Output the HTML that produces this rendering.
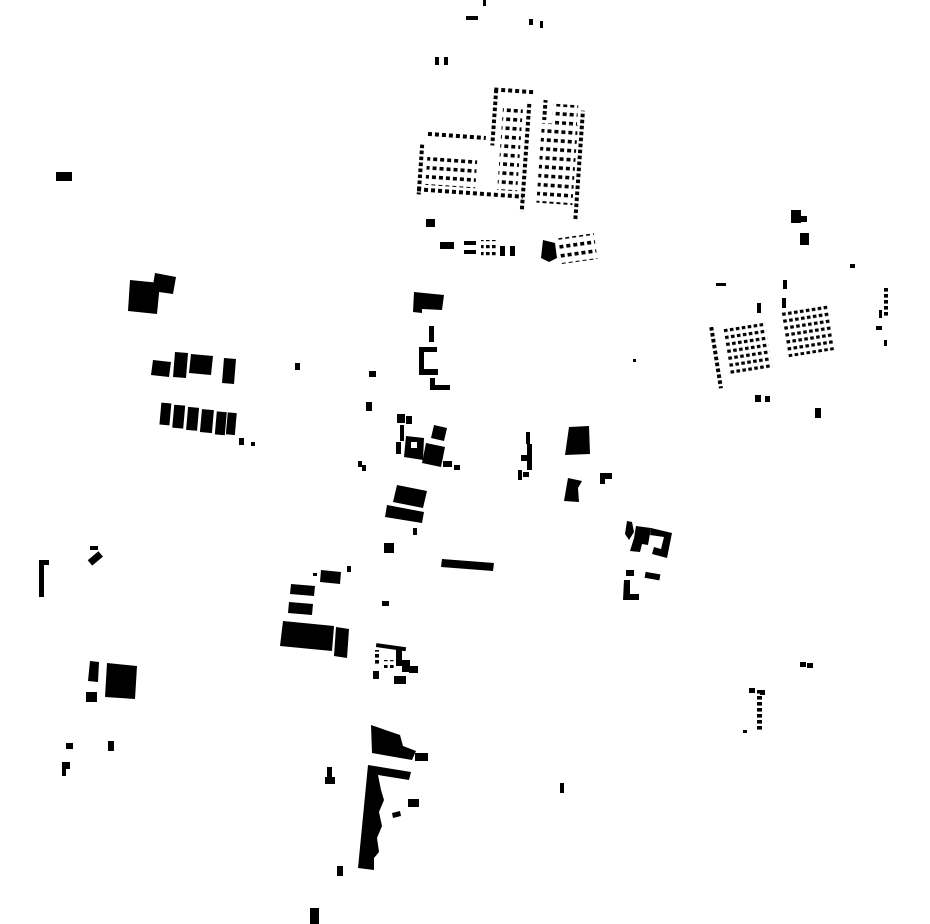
<!DOCTYPE html>
<html><head><meta charset="utf-8"><style>html,body{margin:0;padding:0;background:#fff;width:930px;height:924px;overflow:hidden}</style></head>
<body>
<svg width="930" height="924" viewBox="0 0 930 924" xmlns="http://www.w3.org/2000/svg">
<defs>
<pattern id="d" width="7" height="9" patternUnits="userSpaceOnUse"><rect x="0" y="0" width="4" height="3.6" fill="#000"/></pattern>
<pattern id="d2" width="6" height="7" patternUnits="userSpaceOnUse"><rect x="0" y="0" width="3.6" height="3.2" fill="#000"/></pattern>
<pattern id="v" width="4" height="6" patternUnits="userSpaceOnUse"><rect x="0" y="0" width="4" height="3.6" fill="#000"/></pattern>
<pattern id="h" width="7" height="4" patternUnits="userSpaceOnUse"><rect x="0" y="0" width="4" height="4" fill="#000"/></pattern>
</defs>
<g fill="#000">
<!-- top cluster -->
<rect x="483" y="0" width="3" height="6"/>
<rect x="466" y="16" width="12" height="4"/>
<rect x="529" y="19" width="4" height="6"/><rect x="540" y="21" width="3" height="7"/>
<rect x="435" y="57" width="4" height="8"/><rect x="444" y="57" width="4" height="8"/>
<g transform="rotate(4 500 150)">
<rect x="428" y="160" width="50" height="30" fill="url(#d)"/>
<rect x="420" y="150" width="4" height="50" fill="url(#v)"/>
<rect x="425" y="137" width="60" height="4" fill="url(#h)"/>
<rect x="490" y="88" width="4" height="58" fill="url(#v)"/>
<rect x="490" y="88" width="40" height="4" fill="url(#h)"/>
<rect x="500" y="105" width="20" height="85" fill="url(#d)"/>
<rect x="524" y="100" width="4" height="110" fill="url(#v)"/>
<rect x="540" y="120" width="36" height="80" fill="url(#d)"/>
<rect x="540" y="97" width="4" height="20" fill="url(#v)"/>
<rect x="550" y="100" width="25" height="20" fill="url(#d)"/>
<rect x="578" y="105" width="4" height="110" fill="url(#v)"/>
<rect x="418" y="193" width="108" height="4" fill="url(#h)"/>
</g>
<rect x="426" y="219" width="9" height="8"/>
<rect x="440" y="242" width="14" height="7"/>
<rect x="464" y="241" width="12" height="4"/><rect x="464" y="250" width="12" height="4"/>
<rect x="481" y="240" width="16" height="16" fill="url(#d2)"/>
<rect x="500" y="246" width="5" height="10"/><rect x="510" y="246" width="5" height="10"/>
<polygon points="543,240 555,243 557,258 549,262 541,258"/>
<g transform="rotate(-8 575 250)"><rect x="560" y="236" width="36" height="26" fill="url(#d)"/></g>

<!-- right cluster -->
<rect x="791" y="210" width="10" height="13"/><rect x="799" y="216" width="8" height="6"/>
<rect x="800" y="233" width="9" height="12"/>
<rect x="850" y="264" width="5" height="4"/>
<rect x="716" y="283" width="10" height="3"/>
<rect x="783" y="280" width="4" height="9"/>
<rect x="782" y="298" width="4" height="10"/><rect x="757" y="303" width="4" height="10"/>
<g transform="rotate(-9 770 340)">
<rect x="712" y="318" width="4" height="62" fill="url(#v)"/>
<rect x="724" y="322" width="44" height="48" fill="url(#d2)"/>
<rect x="785" y="312" width="48" height="48" fill="url(#d2)"/>
</g>
<rect x="884" y="287" width="4" height="30" fill="url(#v)"/>
<rect x="876" y="326" width="6" height="4"/><rect x="879" y="310" width="3" height="8"/><rect x="884" y="340" width="3" height="6"/>
<rect x="755" y="395" width="6" height="7"/><rect x="765" y="396" width="5" height="6"/>
<rect x="815" y="408" width="6" height="10"/>
<rect x="633" y="359" width="3" height="3"/>

<!-- left -->
<rect x="56" y="172" width="16" height="9"/>
<polygon points="130,280 160,283 157,314 128,311"/>
<polygon points="155,273 176,277 173,294 152,291"/>
<polygon points="153,360 171,362 169,377 151,375"/>
<polygon points="175,352 188,353 186,378 173,377"/>
<polygon points="191,354 213,356 211,375 189,373"/>
<polygon points="224,358 236,359 234,384 222,383"/>
<g transform="rotate(5 200 420)">
<rect x="160" y="406" width="10" height="22"/><rect x="173" y="407" width="11" height="23"/>
<rect x="187" y="408" width="11" height="23"/><rect x="201" y="409" width="12" height="23"/>
<rect x="216" y="410" width="10" height="23"/><rect x="227" y="410" width="9" height="22"/>
</g>
<rect x="239" y="438" width="5" height="7"/><rect x="251" y="442" width="4" height="4"/>
<rect x="295" y="363" width="5" height="7"/>
<rect x="369" y="371" width="7" height="6"/>
<rect x="366" y="402" width="6" height="9"/>

<!-- center column -->
<polygon points="414,292 444,295 442,310 422,309 422,313 413,312"/>
<rect x="429" y="326" width="5" height="16"/>
<path d="M419 347 h18 v5 h-13 v17 h14 v6 h-19z"/>
<path d="M430 378 h5 v7 h15 v5 h-20z"/>
<rect x="397" y="414" width="8" height="9"/><rect x="406" y="416" width="6" height="8"/>
<rect x="400" y="425" width="4" height="16"/><rect x="396" y="442" width="5" height="12"/>
<polygon points="434,425 447,428 444,441 431,438"/>
<polygon points="406,436 424,438 423,460 404,457" />
<rect x="411" y="442" width="6" height="6" fill="#fff"/>
<polygon points="426,443 445,447 441,467 422,463"/>
<rect x="443" y="461" width="9" height="6"/><rect x="454" y="465" width="6" height="5"/>
<rect x="358" y="461" width="4" height="6"/><rect x="362" y="465" width="4" height="6"/>
<polygon points="397,485 427,491 423,508 393,502"/>
<polygon points="387,505 424,512 422,523 385,517"/>
<rect x="413" y="528" width="4" height="7"/>
<rect x="384" y="543" width="10" height="10"/>
<polygon points="442,559 494,563 493,571 441,567"/>
<rect x="347" y="566" width="4" height="6"/>
<polygon points="321,570 341,572 340,584 320,582"/>
<rect x="313" y="573" width="4" height="3"/>
<polygon points="291,584 315,586 314,596 290,594"/>
<polygon points="289,602 313,604 312,615 288,613"/>
<polygon points="283,621 334,626 332,651 280,646"/>
<polygon points="336,627 349,629 347,658 334,656"/>
<rect x="382" y="601" width="7" height="5"/>
<g>
<rect x="376" y="645" width="30" height="4" transform="rotate(8 390 647)"/>
<rect x="375" y="650" width="4" height="16" fill="url(#v)"/>
<rect x="373" y="671" width="6" height="8"/>
<rect x="384" y="660" width="12" height="8" fill="url(#d2)"/>
<rect x="396" y="648" width="6" height="18"/>
<rect x="402" y="660" width="8" height="12"/>
<rect x="409" y="666" width="9" height="7"/>
<rect x="394" y="676" width="12" height="8"/>
</g>

<!-- middle right -->
<polygon points="569,427 589,426 590,454 565,455"/>
<polygon points="568,478 582,481 578,488 579,502 564,501"/>
<rect x="600" y="473" width="12" height="6"/><rect x="600" y="478" width="5" height="6"/>
<rect x="526" y="432" width="4" height="12"/>
<rect x="527" y="444" width="5" height="26"/>
<rect x="521" y="455" width="6" height="6"/>
<rect x="518" y="470" width="4" height="10"/><rect x="523" y="472" width="6" height="5"/>
<polygon points="627,521 632,522 634,532 629,540 625,534"/>
<polygon points="636,526 651,528 648,545 642,544 640,552 630,551 634,538"/>
<polygon points="651,528 672,533 667,558 652,554 654,547 661,549 664,537 650,535"/>
<rect x="626" y="570" width="8" height="6"/>
<path d="M624 580 h6 v14 h9 v6 h-16z"/>
<rect x="645" y="573" width="15" height="6" transform="rotate(10 652 576)"/>

<!-- lower left -->
<rect x="39" y="560" width="5" height="37"/><rect x="39" y="560" width="10" height="5"/>
<rect x="90" y="546" width="8" height="4"/>
<rect x="88" y="555" width="14" height="7" transform="rotate(-40 95 558)"/>
<polygon points="90,661 99,662 98,682 88,681"/>
<rect x="86" y="692" width="11" height="10"/>
<polygon points="107,663 137,666 135,699 105,697"/>
<rect x="66" y="743" width="7" height="6"/>
<rect x="62" y="762" width="8" height="7"/><rect x="62" y="768" width="4" height="8"/>
<rect x="108" y="741" width="6" height="10"/>

<!-- bottom center -->
<polygon points="371,725 400,735 403,746 416,751 412,760 372,753"/>
<rect x="415" y="753" width="13" height="8"/>
<polygon points="368,765 411,772 409,780 378,775 381,790 384,800 379,812 382,826 377,838 379,852 374,858 374,870 358,868"/>
<rect x="408" y="799" width="11" height="8"/>
<polygon points="392,813 400,811 401,816 393,818"/>
<rect x="327" y="767" width="5" height="14"/><rect x="325" y="777" width="10" height="7"/>
<rect x="337" y="866" width="6" height="10"/>
<rect x="310" y="908" width="9" height="16"/>
<rect x="560" y="783" width="4" height="10"/>

<!-- bottom right -->
<rect x="800" y="662" width="6" height="5"/><rect x="807" y="663" width="6" height="5"/>
<rect x="749" y="688" width="6" height="5"/>
<rect x="757" y="690" width="5" height="40" fill="url(#v)"/>
<rect x="760" y="690" width="5" height="5"/>
<rect x="743" y="730" width="4" height="3"/>
</g>
</svg>
</body></html>
